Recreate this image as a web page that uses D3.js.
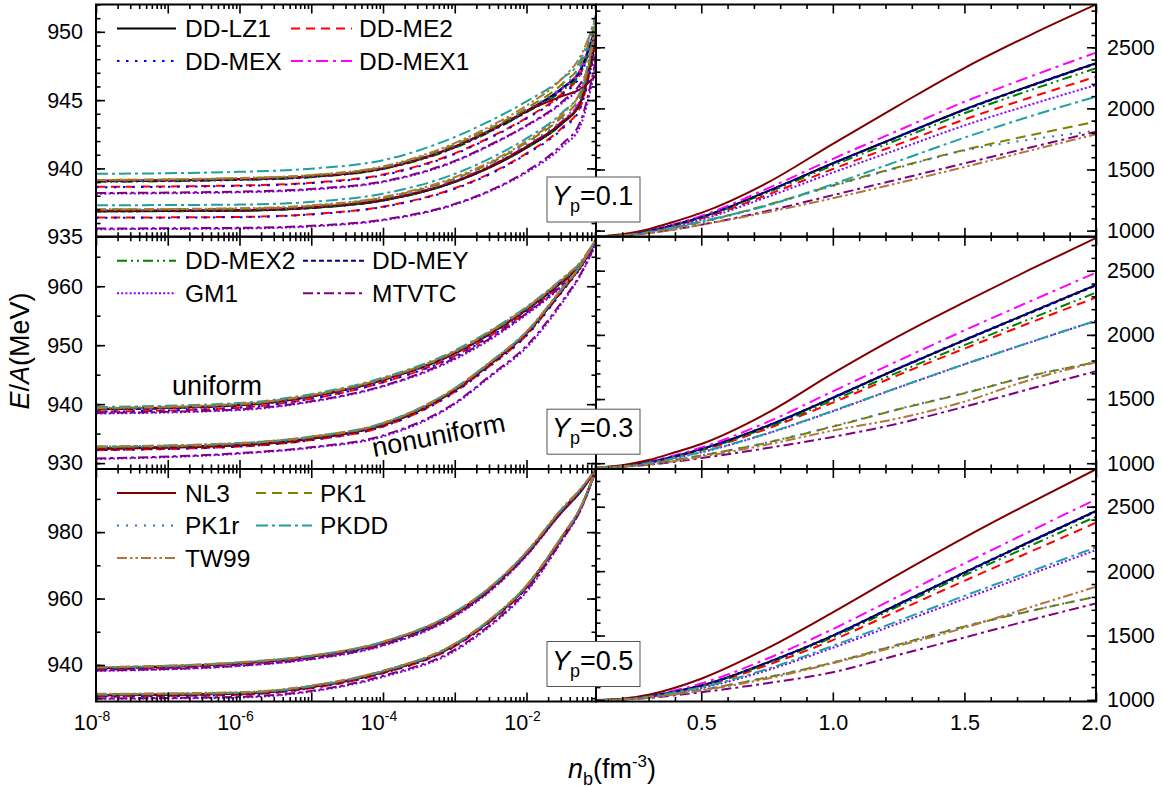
<!DOCTYPE html>
<html>
<head>
<meta charset="utf-8">
<script src="https://cdn.jsdelivr.net/npm/d3@7"></script>
<style>
  body { margin: 0; background: #fff; }
  text { font-family: "Liberation Sans", Arial, Helvetica, sans-serif; fill: #000; }
</style>
</head>
<body>
<svg id="chart" width="1163" height="788"></svg>
<script>
// models, in legend order
var models = ["DD-LZ1", "DD-ME2", "DD-MEX", "DD-MEX1", "DD-MEX2", "DD-MEY", "GM1", "MTVTC", "NL3", "PK1", "PK1r", "PKDD", "TW99"];
var colors = ["#000000", "#ff0000", "#0000ff", "#ff00ff", "#008000", "#000080", "#8000ff", "#800080", "#800000", "#808000", "#3070c0", "#20a0a0", "#b0763a"];
var dashes = [null, "9,6", "2.5,6.5", "12,5,3,5", "10,4,2,4,2,4", "5,3", "2,2.2", "10,4,3,4", null, "10,6", "2,7", "12,4,3,4", "10,3,2.5,3,2.5,3"];

// densities (fm^-3) of the sampled points
var nLow = [1e-8, 1e-6, 1e-5, 1e-4, 1e-3, 3.16e-3, 1e-2, 3.16e-2, 5.62e-2, 0.093];
var nHigh = [0.1, 0.2, 0.3, 0.4, 0.5, 0.75, 1.0, 1.25, 1.5, 1.75, 2.0];

var ypLabels = ["0.1", "0.3", "0.5"];
var logLabelExps = [-8, -6, -4, -2];
var linLabels = [0.5, 1.0, 1.5, 2.0];

// Yp = 0.1, low density: uniform matter
var uni01 = [
  [939.08, 939.2, 939.4, 940.0, 941.6, 942.8, 944.2, 945.9, 947.2, 950.4],
  [938.65, 938.75, 938.95, 939.55, 941.1, 942.3, 943.7, 945.5, 946.9, 950.2],
  [938.62, 938.72, 938.92, 939.5, 941.05, 942.25, 943.65, 945.4, 946.8, 950.1],
  [939.05, 939.18, 939.38, 939.98, 941.55, 942.75, 944.15, 945.85, 947.2, 950.6],
  [939.02, 939.15, 939.35, 939.95, 941.5, 942.7, 944.1, 945.7, 947.0, 950.3],
  [939.05, 939.18, 939.38, 939.98, 941.55, 942.75, 944.15, 945.85, 947.15, 950.4],
  [938.15, 938.25, 938.45, 939.0, 940.5, 941.7, 943.1, 944.8, 946.0, 948.0],
  [938.2, 938.3, 938.5, 939.05, 940.55, 941.75, 943.15, 944.9, 946.2, 948.4],
  [939.1, 939.22, 939.42, 940.0, 941.6, 942.8, 944.2, 945.3, 945.8, 946.8],
  [939.15, 939.28, 939.5, 940.1, 941.75, 942.95, 944.4, 946.2, 947.6, 950.8],
  [939.1, 939.22, 939.44, 940.05, 941.65, 942.85, 944.3, 946.0, 947.4, 950.5],
  [939.6, 939.75, 939.98, 940.6, 942.3, 943.5, 944.9, 946.6, 947.9, 951.3],
  [939.15, 939.3, 939.52, 940.15, 941.85, 943.1, 944.6, 946.6, 948.2, 951.0]
];
// Yp = 0.1, low density: nonuniform matter
var non01 = [
  [936.86, 936.9, 937.1, 937.65, 939.0, 940.1, 941.5, 943.3, 944.8, 949.5],
  [936.4, 936.45, 936.65, 937.2, 938.55, 939.65, 941.1, 943.0, 944.5, 949.3],
  [936.38, 936.43, 936.63, 937.18, 938.5, 939.6, 941.05, 942.9, 944.4, 949.2],
  [936.9, 936.95, 937.15, 937.7, 939.1, 940.2, 941.65, 943.5, 945.0, 950.0],
  [936.85, 936.9, 937.1, 937.65, 939.0, 940.1, 941.5, 943.3, 944.8, 949.6],
  [936.86, 936.92, 937.12, 937.67, 939.02, 940.12, 941.55, 943.35, 944.85, 949.6],
  [935.55, 935.6, 935.75, 936.2, 937.35, 938.35, 939.7, 941.6, 943.1, 947.6],
  [935.6, 935.65, 935.8, 936.25, 937.4, 938.4, 939.8, 941.8, 943.4, 948.0],
  [936.9, 936.95, 937.15, 937.7, 939.05, 940.15, 941.6, 943.4, 944.8, 949.8],
  [937.0, 937.05, 937.25, 937.85, 939.25, 940.4, 941.9, 943.8, 945.3, 950.2],
  [936.95, 937.0, 937.2, 937.8, 939.15, 940.3, 941.75, 943.6, 945.1, 950.0],
  [937.3, 937.35, 937.55, 938.15, 939.6, 940.75, 942.2, 944.1, 945.6, 950.8],
  [937.0, 937.08, 937.3, 937.9, 939.35, 940.5, 942.0, 944.0, 945.6, 950.5]
];
// Yp = 0.1, high density
var high01 = [
  [950, 963, 997, 1049, 1110, 1321, 1551, 1771, 1991, 2185, 2370],
  [950, 962, 993, 1042, 1098, 1292, 1504, 1707, 1909, 2089, 2259],
  [950, 963, 997, 1050, 1111, 1321, 1552, 1772, 1992, 2187, 2372],
  [950, 964, 1000, 1055, 1120, 1343, 1587, 1820, 2054, 2260, 2456],
  [950, 962, 995, 1046, 1106, 1310, 1533, 1746, 1960, 2149, 2328],
  [950, 963, 997, 1049, 1110, 1319, 1549, 1768, 1987, 2181, 2365],
  [950, 961, 991, 1037, 1090, 1274, 1475, 1667, 1860, 2030, 2191],
  [950, 958, 980, 1010, 1048, 1160, 1290, 1420, 1550, 1680, 1809],
  [950, 970, 1012, 1075, 1145, 1390, 1710, 2025, 2330, 2600, 2850],
  [950, 960, 986, 1025, 1070, 1210, 1370, 1520, 1660, 1780, 1891],
  [950, 960, 985, 1022, 1066, 1205, 1365, 1515, 1655, 1745, 1817],
  [950, 960, 987, 1027, 1075, 1205, 1380, 1570, 1760, 1935, 2096],
  [950, 958, 980, 1010, 1047, 1150, 1265, 1390, 1520, 1655, 1788]
];

// Yp = 0.3
var uni03 = [
  [939.15, 939.8, 941.3, 944.1, 948.6, 952.0, 956.0, 960.8, 963.6, 967.8],
  [938.7, 939.4, 940.9, 943.7, 948.2, 951.6, 955.6, 960.5, 963.4, 967.7],
  [938.7, 939.4, 940.9, 943.7, 948.1, 951.5, 955.5, 960.4, 963.3, 967.7],
  [939.1, 939.8, 941.3, 944.1, 948.6, 952.0, 956.1, 961.0, 963.8, 967.9],
  [939.1, 939.8, 941.3, 944.1, 948.6, 952.0, 956.0, 960.8, 963.6, 967.8],
  [939.1, 939.8, 941.3, 944.1, 948.6, 952.0, 956.0, 960.8, 963.6, 967.8],
  [938.4, 939.0, 940.4, 943.0, 947.6, 951.0, 955.2, 960.0, 963.0, 967.5],
  [938.5, 939.1, 940.5, 943.1, 947.8, 951.2, 955.4, 960.2, 963.2, 967.6],
  [939.2, 939.85, 941.35, 944.15, 948.7, 952.1, 956.1, 960.9, 963.6, 967.8],
  [939.3, 940.0, 941.5, 944.3, 948.9, 952.3, 956.3, 961.1, 963.9, 967.9],
  [939.2, 939.9, 941.4, 944.2, 948.8, 952.2, 956.2, 961.0, 963.8, 967.9],
  [939.5, 940.2, 941.7, 944.5, 949.1, 952.5, 956.5, 961.3, 964.0, 968.0],
  [939.35, 940.05, 941.55, 944.35, 948.95, 952.4, 956.4, 961.3, 964.1, 968.0]
];
var non03 = [
  [932.5, 933.1, 934.2, 936.5, 942.4, 946.9, 952.0, 959.4, 963.3, 967.8],
  [932.2, 932.8, 933.9, 936.2, 942.1, 946.6, 951.7, 959.2, 963.2, 967.7],
  [932.2, 932.8, 933.9, 936.2, 942.0, 946.5, 951.6, 959.1, 963.1, 967.7],
  [932.5, 933.1, 934.2, 936.5, 942.5, 947.0, 952.1, 959.5, 963.4, 967.9],
  [932.5, 933.1, 934.2, 936.5, 942.4, 946.9, 952.0, 959.4, 963.3, 967.8],
  [932.5, 933.1, 934.2, 936.5, 942.4, 946.9, 952.0, 959.4, 963.3, 967.8],
  [930.7, 931.6, 932.6, 934.5, 940.0, 944.7, 949.6, 957.2, 961.8, 967.2],
  [930.8, 931.7, 932.7, 934.7, 940.2, 944.9, 949.9, 957.5, 962.0, 967.3],
  [932.4, 933.0, 934.1, 936.4, 942.3, 946.8, 952.0, 959.4, 963.3, 967.8],
  [932.7, 933.3, 934.4, 936.7, 942.6, 947.1, 952.2, 959.6, 963.4, 967.9],
  [932.6, 933.2, 934.3, 936.6, 942.5, 947.0, 952.1, 959.5, 963.4, 967.9],
  [932.8, 933.4, 934.5, 936.8, 942.7, 947.2, 952.3, 959.7, 963.5, 968.0],
  [932.8, 933.4, 934.5, 936.8, 942.7, 947.2, 952.3, 959.7, 963.5, 968.0]
];
var high03 = [
  [967, 978, 1008, 1055, 1110, 1290, 1510, 1740, 1960, 2175, 2389],
  [967, 977, 1005, 1049, 1100, 1268, 1472, 1688, 1893, 2095, 2291],
  [967, 978, 1008, 1055, 1111, 1292, 1513, 1743, 1963, 2178, 2392],
  [967, 980, 1012, 1062, 1122, 1320, 1560, 1800, 2035, 2262, 2484],
  [967, 978, 1006, 1051, 1104, 1278, 1490, 1710, 1920, 2125, 2329],
  [967, 978, 1008, 1054, 1109, 1288, 1508, 1737, 1956, 2170, 2385],
  [967, 976, 1000, 1040, 1085, 1230, 1405, 1590, 1770, 1942, 2110],
  [967, 972, 988, 1012, 1040, 1118, 1205, 1310, 1440, 1580, 1717],
  [967, 985, 1025, 1085, 1150, 1390, 1700, 1990, 2255, 2510, 2755],
  [967, 974, 995, 1025, 1060, 1160, 1285, 1420, 1545, 1680, 1787],
  [967, 974, 995, 1025, 1060, 1162, 1288, 1423, 1548, 1682, 1787],
  [967, 976, 1001, 1041, 1087, 1233, 1408, 1592, 1771, 1943, 2110],
  [967, 973, 990, 1017, 1050, 1145, 1255, 1350, 1480, 1650, 1787]
];

// Yp = 0.5
var uni05 = [
  [939.0, 940.5, 942.5, 946.7, 955.5, 963.1, 973.4, 986.2, 992.0, 998.8],
  [938.6, 940.1, 942.1, 946.3, 955.1, 962.8, 973.2, 986.4, 992.4, 998.8],
  [938.6, 940.1, 942.1, 946.3, 955.1, 962.8, 973.2, 986.4, 992.4, 998.8],
  [939.0, 940.5, 942.5, 946.7, 955.6, 963.2, 973.7, 986.8, 992.7, 998.9],
  [939.0, 940.5, 942.5, 946.7, 955.5, 963.1, 973.6, 986.7, 992.6, 998.9],
  [939.0, 940.5, 942.5, 946.7, 955.5, 963.1, 973.6, 986.7, 992.6, 998.9],
  [938.2, 939.7, 941.7, 945.8, 954.6, 962.3, 972.9, 986.2, 992.3, 998.7],
  [938.3, 939.8, 941.8, 946.0, 954.8, 962.5, 973.0, 986.3, 992.4, 998.7],
  [939.1, 940.6, 942.6, 946.8, 955.6, 963.2, 973.6, 986.6, 992.5, 998.9],
  [939.2, 940.7, 942.7, 946.9, 955.8, 963.4, 973.9, 987.0, 992.8, 999.0],
  [939.1, 940.6, 942.6, 946.8, 955.7, 963.3, 973.8, 986.9, 992.7, 999.0],
  [939.3, 940.8, 942.8, 947.0, 955.9, 963.5, 974.0, 987.1, 992.9, 999.0],
  [939.3, 940.8, 942.8, 947.0, 955.9, 963.6, 974.1, 987.3, 993.0, 999.0]
];
var non05 = [
  [930.9, 931.4, 933.4, 937.9, 946.0, 953.5, 963.6, 978.6, 987.0, 998.8],
  [930.5, 931.0, 933.0, 937.5, 945.6, 953.1, 963.2, 978.3, 986.8, 998.8],
  [930.5, 931.0, 933.0, 937.5, 945.6, 953.1, 963.2, 978.3, 986.8, 998.8],
  [930.9, 931.4, 933.4, 937.9, 946.1, 953.6, 963.7, 978.8, 987.2, 998.9],
  [930.9, 931.4, 933.4, 937.9, 946.0, 953.5, 963.6, 978.6, 987.0, 998.8],
  [930.9, 931.4, 933.4, 937.9, 946.0, 953.5, 963.6, 978.6, 987.0, 998.8],
  [929.8, 930.2, 932.0, 936.4, 944.2, 951.8, 962.0, 977.6, 986.4, 998.6],
  [929.9, 930.4, 932.2, 936.7, 944.6, 952.2, 962.4, 977.8, 986.5, 998.6],
  [930.8, 931.3, 933.3, 937.8, 945.9, 953.4, 963.5, 978.5, 987.0, 998.8],
  [931.2, 931.7, 933.7, 938.2, 946.3, 953.8, 963.9, 978.9, 987.3, 998.9],
  [931.1, 931.6, 933.6, 938.1, 946.2, 953.7, 963.8, 978.8, 987.2, 998.9],
  [931.1, 931.6, 933.6, 938.1, 946.2, 953.7, 963.8, 978.8, 987.2, 998.9],
  [931.3, 931.8, 933.8, 938.3, 946.4, 953.9, 964.0, 979.0, 987.4, 999.0]
];
var high05 = [
  [999, 1006, 1028, 1066, 1112, 1290, 1500, 1745, 1990, 2230, 2467],
  [999, 1005, 1026, 1062, 1105, 1270, 1465, 1695, 1925, 2150, 2376],
  [999, 1006, 1028, 1066, 1113, 1292, 1503, 1748, 1993, 2233, 2470],
  [999, 1008, 1033, 1075, 1128, 1320, 1550, 1805, 2060, 2310, 2558],
  [999, 1006, 1027, 1064, 1110, 1283, 1487, 1728, 1968, 2197, 2423],
  [999, 1006, 1028, 1065, 1111, 1288, 1497, 1741, 1985, 2225, 2462],
  [999, 1004, 1022, 1054, 1092, 1230, 1405, 1595, 1785, 1975, 2164],
  [999, 1003, 1015, 1036, 1060, 1130, 1215, 1350, 1485, 1620, 1750],
  [999, 1010, 1040, 1095, 1165, 1400, 1680, 1975, 2260, 2530, 2791],
  [999, 1004, 1020, 1046, 1078, 1175, 1290, 1430, 1570, 1690, 1802],
  [999, 1004, 1020, 1046, 1078, 1176, 1292, 1432, 1572, 1692, 1802],
  [999, 1005, 1025, 1058, 1098, 1240, 1420, 1615, 1808, 1997, 2185],
  [999, 1003, 1018, 1043, 1073, 1165, 1285, 1420, 1560, 1720, 1879]
];

var svg = d3.select("#chart");
var FONT = "'Liberation Sans', Arial, Helvetica, sans-serif";

// panel geometry
var xL = 96, xM = 596, xR = 1096;
var rowTop = [4.5, 236.7, 469];
var rowBot = [236.7, 469, 701.5];
var leftDom = [[935, 952], [929, 968.4], [929, 999]];
var leftStep = [[5, 1], [10, 5], [20, 10]];
var rightDom = [[950, 2850], [955, 2765], [988, 2793]];
var uniSets = [uni01, uni03, uni05];
var nonSets = [non01, non03, non05];
var highSets = [high01, high03, high05];
var legendSets = [[0, 1, 2, 3], [4, 5, 6, 7], [8, 9, 10, 11, 12]];
var legendCol2 = [[291, 352, 359], [303, 364, 372], [256, 312, 320]];

var xLog = d3.scaleLog().domain([1e-8, 0.093]).range([xL, xM]);
var xLin = d3.scaleLinear().domain([0.1, 2.0]).range([xM, xR]);

var logMajor = d3.range(-8, -1).map(function (e) { return Math.pow(10, e); });
var logMinor = [];
d3.range(-8, -1).forEach(function (e) {
  for (var m = 2; m <= 9; m++) {
    var v = m * Math.pow(10, e);
    if (v < 0.093) logMinor.push(v);
  }
});
var linMajor = [0.5, 1.0, 1.5, 2.0];
var linMinor = d3.range(2, 20).map(function (i) { return i / 10; })
  .filter(function (v) { return Math.abs(v * 2 - Math.round(v * 2)) > 1e-6; });

function ticksBetween(dom, step) {
  return d3.range(Math.ceil(dom[0] / step) * step, dom[1] + 1e-9, step);
}

var defs = svg.append("defs");
var plots = svg.append("g");
var frames = svg.append("g");
var axesG = svg.append("g");
var overlay = svg.append("g");

function addAxis(axis, tx, ty) {
  var a = axesG.append("g").attr("transform", "translate(" + tx + "," + ty + ")").call(axis);
  a.select(".domain").remove();
  a.attr("font-family", FONT).attr("font-size", 21.5);
  a.selectAll(".tick line").attr("stroke", "#000").attr("stroke-width", 1.6);
  a.selectAll(".tick text").attr("fill", "#000");
  return a;
}

var line = d3.line().curve(d3.curveMonotoneX);

function drawCurve(g, pts, i) {
  g.append("path").attr("d", line(pts))
    .attr("fill", "none").attr("stroke", colors[i]).attr("stroke-width", 2)
    .attr("stroke-dasharray", dashes[i]);
}

for (var r = 0; r < 3; r++) {
  var yLeft = d3.scaleLinear().domain(leftDom[r]).range([rowBot[r], rowTop[r]]);
  var yRight = d3.scaleLinear().domain(rightDom[r]).range([rowBot[r], rowTop[r]]);
  var h = rowBot[r] - rowTop[r];

  defs.append("clipPath").attr("id", "clipL" + r)
    .append("rect").attr("x", xL).attr("y", rowTop[r]).attr("width", xM - xL).attr("height", h);
  defs.append("clipPath").attr("id", "clipR" + r)
    .append("rect").attr("x", xM).attr("y", rowTop[r]).attr("width", xR - xM).attr("height", h);

  var gl = plots.append("g").attr("clip-path", "url(#clipL" + r + ")");
  var gr = plots.append("g").attr("clip-path", "url(#clipR" + r + ")");

  [uniSets[r], nonSets[r]].forEach(function (set) {
    set.forEach(function (vals, i) {
      drawCurve(gl, vals.map(function (v, k) { return [xLog(nLow[k]), yLeft(v)]; }), i);
    });
  });
  highSets[r].forEach(function (vals, i) {
    drawCurve(gr, vals.map(function (v, k) { return [xLin(nHigh[k]), yRight(v)]; }), i);
  });

  // frames
  frames.append("rect").attr("x", xL).attr("y", rowTop[r]).attr("width", xM - xL).attr("height", h)
    .attr("fill", "none").attr("stroke", "#000").attr("stroke-width", 2);
  frames.append("rect").attr("x", xM).attr("y", rowTop[r]).attr("width", xR - xM).attr("height", h)
    .attr("fill", "none").attr("stroke", "#000").attr("stroke-width", 2);

  // left panel: y axes
  var lMaj = ticksBetween(leftDom[r], leftStep[r][0]);
  var lMin = ticksBetween(leftDom[r], leftStep[r][1]);
  addAxis(d3.axisLeft(yLeft).tickValues(lMaj).tickSize(-9).tickPadding(13).tickFormat(d3.format("d")), xL, 0);
  addAxis(d3.axisLeft(yLeft).tickValues(lMin).tickSize(-4.5).tickFormat(""), xL, 0);
  addAxis(d3.axisRight(yLeft).tickValues(lMaj).tickSize(-9).tickFormat(""), xM, 0);
  addAxis(d3.axisRight(yLeft).tickValues(lMin).tickSize(-4.5).tickFormat(""), xM, 0);

  // left panel: log x axes
  addAxis(d3.axisBottom(xLog).tickValues(logMajor).tickSize(-9).tickFormat(""), 0, rowBot[r]);
  addAxis(d3.axisBottom(xLog).tickValues(logMinor).tickSize(-4.5).tickFormat(""), 0, rowBot[r]);
  addAxis(d3.axisTop(xLog).tickValues(logMajor).tickSize(-9).tickFormat(""), 0, rowTop[r]);
  addAxis(d3.axisTop(xLog).tickValues(logMinor).tickSize(-4.5).tickFormat(""), 0, rowTop[r]);

  // right panel: y axes
  var rMaj = ticksBetween(rightDom[r], 500);
  var rMin = ticksBetween(rightDom[r], 100);
  addAxis(d3.axisRight(yRight).tickValues(rMaj).tickSize(-9).tickPadding(11).tickFormat(d3.format("d")), xR, 0);
  addAxis(d3.axisRight(yRight).tickValues(rMin).tickSize(-4.5).tickFormat(""), xR, 0);
  addAxis(d3.axisLeft(yRight).tickValues(rMaj).tickSize(-9).tickFormat(""), xM, 0);
  addAxis(d3.axisLeft(yRight).tickValues(rMin).tickSize(-4.5).tickFormat(""), xM, 0);

  // right panel: linear x axes
  var bottomFmt = r === 2 ? d3.format(".1f") : "";
  addAxis(d3.axisBottom(xLin).tickValues(linLabels).tickSize(-9).tickPadding(13).tickFormat(bottomFmt), 0, rowBot[r]);
  addAxis(d3.axisBottom(xLin).tickValues(linMinor).tickSize(-4.5).tickFormat(""), 0, rowBot[r]);
  addAxis(d3.axisTop(xLin).tickValues(linMajor).tickSize(-9).tickFormat(""), 0, rowTop[r]);
  addAxis(d3.axisTop(xLin).tickValues(linMinor).tickSize(-4.5).tickFormat(""), 0, rowTop[r]);

  // Yp box
  var bx = overlay.append("g").attr("transform", "translate(547," + (rowTop[r] + 172.5) + ")");
  bx.append("rect").attr("width", 93).attr("height", 45).attr("fill", "#fff")
    .attr("stroke", "#555").attr("stroke-width", 1);
  var bt = bx.append("text").attr("x", 5).attr("y", 28).attr("font-size", 27);
  bt.append("tspan").attr("font-style", "italic").text("Y");
  bt.append("tspan").attr("font-size", 18).attr("dy", 7).text("p");
  bt.append("tspan").attr("dy", -7).text("=" + ypLabels[r]);

  // legend
  legendSets[r].forEach(function (mi, j) {
    var col = j % 2, row = Math.floor(j / 2);
    var ly = rowTop[r] + 24 + row * 32.5;
    var x0 = col === 0 ? 117 : legendCol2[r][0];
    var x1 = col === 0 ? 176 : legendCol2[r][1];
    var tx = col === 0 ? 185 : legendCol2[r][2];
    overlay.append("line").attr("x1", x0).attr("x2", x1).attr("y1", ly).attr("y2", ly)
      .attr("stroke", colors[mi]).attr("stroke-width", 2).attr("stroke-dasharray", dashes[mi]);
    overlay.append("text").attr("x", tx).attr("y", ly + 8.6).attr("font-size", 24.5).text(models[mi]);
  });
}

// log tick labels with superscripts
logLabelExps.forEach(function (e) {
  var t = overlay.append("text").attr("x", xLog(Math.pow(10, e)) - 4).attr("y", 730)
    .attr("text-anchor", "middle").attr("font-size", 21.5);
  t.append("tspan").text("10");
  t.append("tspan").attr("font-size", 14).attr("dy", -9).text(e);
});

// phase labels
overlay.append("text").attr("x", 172).attr("y", 395).attr("font-size", 27).text("uniform");
overlay.append("text").attr("transform", "translate(374,457) rotate(-11)").attr("font-size", 27).text("nonuniform");

// axis titles
var yt = overlay.append("text").attr("transform", "translate(29,351) rotate(-90)")
  .attr("text-anchor", "middle").attr("font-size", 27);
yt.append("tspan").attr("font-style", "italic").text("E");
yt.append("tspan").text("/");
yt.append("tspan").attr("font-style", "italic").text("A");
yt.append("tspan").text("(MeV)");

var xt = overlay.append("text").attr("x", 612).attr("y", 778)
  .attr("text-anchor", "middle").attr("font-size", 27);
xt.append("tspan").attr("font-style", "italic").text("n");
xt.append("tspan").attr("font-size", 18).attr("dy", 7).text("b");
xt.append("tspan").attr("dy", -7).text("(fm");
xt.append("tspan").attr("font-size", 17).attr("dy", -11).text("-3");
xt.append("tspan").attr("dy", 11).text(")");
</script>
</body>
</html>
